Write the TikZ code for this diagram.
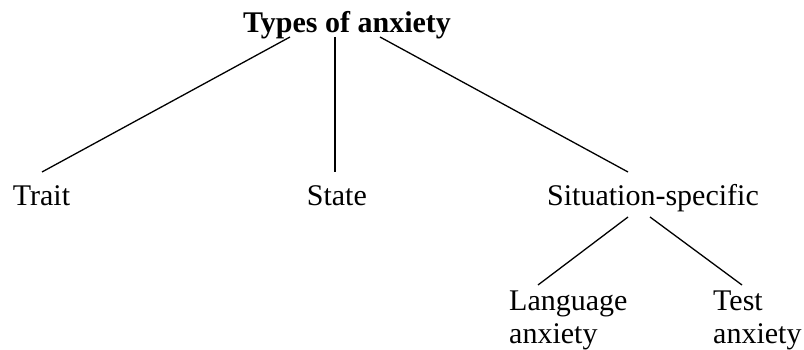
\documentclass[tikz,border=0pt]{standalone}
\usepackage{fontspec}
\setmainfont{Liberation Serif}
\usetikzlibrary{calc}
\begin{document}
\begin{tikzpicture}[x=1pt,y=1pt,
  lbl/.style={inner sep=0pt, anchor=base west, font=\fontsize{30}{32.5}\selectfont, align=left},
  conn/.style={line width=1.3pt, black}]
\useasboundingbox (0,0) rectangle (804,350);
\node[lbl, font=\fontsize{30}{32.5}\selectfont\bfseries] (title) at (243,317) {Types of anxiety};
\node[lbl] (trait) at (12.7,144) {Trait};
\node[lbl] (state) at (306.7,144) {State};
\node[lbl] (sit) at (547,144) {Situation-specific};
\node[lbl] (lang) at (509,6.8) {Language\\anxiety};
\node[lbl] (test) at (713,6.8) {Test\\anxiety};
\draw[conn] ($(title.base west)+(47,-4)$) -- ($(trait.base west)+(29.3,34)$);
\draw[conn] ($(title.base west)+(92,-4)$) -- ($(state.base west)+(28.3,34)$);
\draw[conn] ($(title.base west)+(137,-4)$) -- ($(sit.base west)+(81,34)$);
\draw[conn] ($(sit.base west)+(81,-11)$) -- ($(lang.base west)+(29,58.2)$);
\draw[conn] ($(sit.base west)+(103,-11)$) -- ($(test.base west)+(29,58.2)$);
\end{tikzpicture}
\end{document}
